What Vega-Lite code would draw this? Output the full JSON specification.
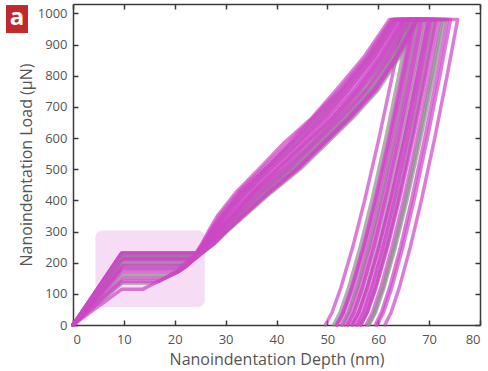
{
  "$schema": "https://vega.github.io/schema/vega-lite/v6.json",
  "width": 407,
  "height": 321,
  "autosize": {"type": "none"},
  "padding": {"left": 73, "top": 4, "right": 8, "bottom": 46},
  "background": "white",
  "config": {
    "view": {"stroke": null},
    "font": "Open Sans",
    "axis": {
      "grid": false,
      "domainColor": "#3a3a3a",
      "domainWidth": 1.5,
      "tickColor": "#3a3a3a",
      "tickWidth": 1.5,
      "tickSize": -5,
      "labelColor": "#555555",
      "labelFontSize": 13,
      "labelFont": "Open Sans",
      "titleColor": "#555555",
      "titleFontSize": 16,
      "titleFontWeight": "normal",
      "titleFont": "Open Sans"
    }
  },
  "datasets": {
    "box": [{"x1": 4.4, "x2": 25.9, "y1": 58, "y2": 303}],
    "panel": [{"x1": -13.17, "x2": -8.85, "y1": 936.8, "y2": 1026.6, "xc": -11.0, "yc": 981, "t": "a"}],
    "curves": [
      {"s":1,"x":0,"y":0},{"s":1,"x":9.6,"y":231},{"s":1,"x":24.2,"y":231},{"s":1,"x":25.3,"y":260},{"s":1,"x":26.6,"y":300},{"s":1,"x":28.4,"y":350},{"s":1,"x":32.0,"y":425},{"s":1,"x":36.8,"y":505},{"s":1,"x":41.5,"y":585},{"s":1,"x":47.0,"y":665},{"s":1,"x":51.8,"y":755},{"s":1,"x":57.2,"y":860},{"s":1,"x":62.2,"y":980},{"s":1,"x":65.0,"y":980},{"s":1,"x":62.77,"y":800},{"s":1,"x":60.16,"y":600},{"s":1,"x":57.33,"y":400},{"s":1,"x":54.99,"y":250},{"s":1,"x":52.66,"y":120},{"s":1,"x":50.92,"y":40},{"s":1,"x":49.6,"y":0},
      {"s":2,"x":0,"y":0},{"s":2,"x":9.7,"y":183},{"s":2,"x":20.75,"y":183},{"s":2,"x":21.38,"y":190},{"s":2,"x":22.78,"y":210},{"s":2,"x":24.38,"y":231},{"s":2,"x":25.66,"y":260},{"s":2,"x":27.14,"y":300},{"s":2,"x":29.18,"y":350},{"s":2,"x":33.02,"y":425},{"s":2,"x":38.0,"y":505},{"s":2,"x":43.2,"y":585},{"s":2,"x":48.0,"y":665},{"s":2,"x":53.0,"y":755},{"s":2,"x":58.22,"y":860},{"s":2,"x":63.04,"y":980},{"s":2,"x":66.2,"y":980},{"s":2,"x":64.03,"y":800},{"s":2,"x":61.49,"y":600},{"s":2,"x":58.73,"y":400},{"s":2,"x":56.45,"y":250},{"s":2,"x":54.18,"y":120},{"s":2,"x":52.48,"y":40},{"s":2,"x":51.2,"y":0},
      {"s":3,"x":0,"y":0},{"s":3,"x":9.5,"y":224},{"s":3,"x":23.76,"y":224},{"s":3,"x":24.29,"y":231},{"s":3,"x":25.48,"y":260},{"s":3,"x":26.87,"y":300},{"s":3,"x":28.79,"y":350},{"s":3,"x":32.51,"y":425},{"s":3,"x":37.4,"y":505},{"s":3,"x":42.4,"y":585},{"s":3,"x":47.2,"y":665},{"s":3,"x":52.4,"y":755},{"s":3,"x":57.71,"y":860},{"s":3,"x":62.62,"y":980},{"s":3,"x":67.0,"y":980},{"s":3,"x":64.8,"y":800},{"s":3,"x":62.22,"y":600},{"s":3,"x":59.43,"y":400},{"s":3,"x":57.12,"y":250},{"s":3,"x":54.82,"y":120},{"s":3,"x":53.1,"y":40},{"s":3,"x":51.8,"y":0},
      {"s":4,"x":0,"y":0},{"s":4,"x":9.8,"y":215},{"s":4,"x":23.34,"y":215},{"s":4,"x":24.56,"y":231},{"s":4,"x":26.02,"y":260},{"s":4,"x":27.68,"y":300},{"s":4,"x":29.96,"y":350},{"s":4,"x":34.04,"y":425},{"s":4,"x":39.2,"y":505},{"s":4,"x":44.2,"y":585},{"s":4,"x":49.4,"y":665},{"s":4,"x":54.2,"y":755},{"s":4,"x":59.24,"y":860},{"s":4,"x":63.88,"y":980},{"s":4,"x":67.6,"y":980},{"s":4,"x":65.46,"y":800},{"s":4,"x":62.95,"y":600},{"s":4,"x":60.23,"y":400},{"s":4,"x":57.98,"y":250},{"s":4,"x":55.74,"y":120},{"s":4,"x":54.07,"y":40},{"s":4,"x":52.8,"y":0},
      {"s":5,"x":0,"y":0},{"s":5,"x":9.6,"y":205},{"s":5,"x":22.52,"y":205},{"s":5,"x":22.87,"y":210},{"s":5,"x":24.47,"y":231},{"s":5,"x":25.84,"y":260},{"s":5,"x":27.41,"y":300},{"s":5,"x":29.57,"y":350},{"s":5,"x":33.53,"y":425},{"s":5,"x":38.6,"y":505},{"s":5,"x":43.6,"y":585},{"s":5,"x":48.6,"y":665},{"s":5,"x":53.6,"y":755},{"s":5,"x":58.73,"y":860},{"s":5,"x":63.46,"y":980},{"s":5,"x":68.0,"y":980},{"s":5,"x":65.82,"y":800},{"s":5,"x":63.25,"y":600},{"s":5,"x":60.48,"y":400},{"s":5,"x":58.18,"y":250},{"s":5,"x":55.9,"y":120},{"s":5,"x":54.19,"y":40},{"s":5,"x":52.9,"y":0},
      {"s":6,"x":0,"y":0},{"s":6,"x":9.4,"y":228},{"s":6,"x":24.51,"y":228},{"s":6,"x":24.74,"y":231},{"s":6,"x":26.38,"y":260},{"s":6,"x":28.22,"y":300},{"s":6,"x":30.74,"y":350},{"s":6,"x":35.06,"y":425},{"s":6,"x":40.4,"y":505},{"s":6,"x":45.4,"y":585},{"s":6,"x":50.4,"y":665},{"s":6,"x":55.4,"y":755},{"s":6,"x":60.26,"y":860},{"s":6,"x":64.72,"y":980},{"s":6,"x":68.6,"y":980},{"s":6,"x":66.49,"y":800},{"s":6,"x":64.01,"y":600},{"s":6,"x":61.33,"y":400},{"s":6,"x":59.11,"y":250},{"s":6,"x":56.9,"y":120},{"s":6,"x":55.25,"y":40},{"s":6,"x":54.0,"y":0},
      {"s":7,"x":0,"y":0},{"s":7,"x":9.9,"y":195},{"s":7,"x":22.0,"y":195},{"s":7,"x":23.05,"y":210},{"s":7,"x":24.65,"y":231},{"s":7,"x":26.2,"y":260},{"s":7,"x":27.95,"y":300},{"s":7,"x":30.35,"y":350},{"s":7,"x":34.55,"y":425},{"s":7,"x":39.8,"y":505},{"s":7,"x":44.8,"y":585},{"s":7,"x":49.8,"y":665},{"s":7,"x":54.8,"y":755},{"s":7,"x":59.75,"y":860},{"s":7,"x":64.3,"y":980},{"s":7,"x":69.0,"y":980},{"s":7,"x":66.83,"y":800},{"s":7,"x":64.29,"y":600},{"s":7,"x":61.53,"y":400},{"s":7,"x":59.25,"y":250},{"s":7,"x":56.98,"y":120},{"s":7,"x":55.28,"y":40},{"s":7,"x":54.0,"y":0},
      {"s":8,"x":0,"y":0},{"s":8,"x":9.6,"y":160},{"s":8,"x":18.87,"y":160},{"s":8,"x":20.12,"y":170},{"s":8,"x":21.92,"y":190},{"s":8,"x":23.32,"y":210},{"s":8,"x":24.92,"y":231},{"s":8,"x":26.74,"y":260},{"s":8,"x":28.76,"y":300},{"s":8,"x":31.52,"y":350},{"s":8,"x":36.08,"y":425},{"s":8,"x":41.6,"y":505},{"s":8,"x":46.6,"y":585},{"s":8,"x":51.6,"y":665},{"s":8,"x":56.6,"y":755},{"s":8,"x":61.28,"y":860},{"s":8,"x":65.56,"y":980},{"s":8,"x":69.5,"y":980},{"s":8,"x":67.38,"y":800},{"s":8,"x":64.88,"y":600},{"s":8,"x":62.18,"y":400},{"s":8,"x":59.94,"y":250},{"s":8,"x":57.72,"y":120},{"s":8,"x":56.06,"y":40},{"s":8,"x":54.8,"y":0},
      {"s":9,"x":0,"y":0},{"s":9,"x":9.7,"y":220},{"s":9,"x":23.99,"y":220},{"s":9,"x":24.83,"y":231},{"s":9,"x":26.56,"y":260},{"s":9,"x":28.49,"y":300},{"s":9,"x":31.13,"y":350},{"s":9,"x":35.57,"y":425},{"s":9,"x":41.0,"y":505},{"s":9,"x":46.0,"y":585},{"s":9,"x":51.0,"y":665},{"s":9,"x":56.0,"y":755},{"s":9,"x":60.77,"y":860},{"s":9,"x":65.14,"y":980},{"s":9,"x":70.0,"y":980},{"s":9,"x":67.8,"y":800},{"s":9,"x":65.22,"y":600},{"s":9,"x":62.43,"y":400},{"s":9,"x":60.12,"y":250},{"s":9,"x":57.82,"y":120},{"s":9,"x":56.1,"y":40},{"s":9,"x":54.8,"y":0},
      {"s":10,"x":0,"y":0},{"s":10,"x":9.5,"y":210},{"s":10,"x":23.5,"y":210},{"s":10,"x":25.1,"y":231},{"s":10,"x":27.1,"y":260},{"s":10,"x":29.3,"y":300},{"s":10,"x":32.3,"y":350},{"s":10,"x":37.1,"y":425},{"s":10,"x":42.8,"y":505},{"s":10,"x":47.8,"y":585},{"s":10,"x":52.8,"y":665},{"s":10,"x":57.8,"y":755},{"s":10,"x":62.3,"y":860},{"s":10,"x":66.4,"y":980},{"s":10,"x":70.6,"y":980},{"s":10,"x":68.45,"y":800},{"s":10,"x":65.92,"y":600},{"s":10,"x":63.18,"y":400},{"s":10,"x":60.91,"y":250},{"s":10,"x":58.66,"y":120},{"s":10,"x":56.97,"y":40},{"s":10,"x":55.7,"y":0},
      {"s":11,"x":0,"y":0},{"s":11,"x":9.6,"y":200},{"s":11,"x":22.71,"y":200},{"s":11,"x":23.41,"y":210},{"s":11,"x":25.01,"y":231},{"s":11,"x":26.92,"y":260},{"s":11,"x":29.03,"y":300},{"s":11,"x":31.91,"y":350},{"s":11,"x":36.59,"y":425},{"s":11,"x":42.2,"y":505},{"s":11,"x":47.2,"y":585},{"s":11,"x":52.2,"y":665},{"s":11,"x":57.2,"y":755},{"s":11,"x":61.79,"y":860},{"s":11,"x":65.98,"y":980},{"s":11,"x":71.0,"y":980},{"s":11,"x":68.9,"y":800},{"s":11,"x":66.44,"y":600},{"s":11,"x":63.78,"y":400},{"s":11,"x":61.57,"y":250},{"s":11,"x":59.38,"y":120},{"s":11,"x":57.74,"y":40},{"s":11,"x":56.5,"y":0},
      {"s":12,"x":0,"y":0},{"s":12,"x":9.8,"y":150},{"s":12,"x":17.98,"y":150},{"s":12,"x":20.48,"y":170},{"s":12,"x":22.28,"y":190},{"s":12,"x":23.68,"y":210},{"s":12,"x":25.28,"y":231},{"s":12,"x":27.46,"y":260},{"s":12,"x":29.84,"y":300},{"s":12,"x":33.08,"y":350},{"s":12,"x":38.12,"y":425},{"s":12,"x":44.0,"y":505},{"s":12,"x":49.0,"y":585},{"s":12,"x":54.0,"y":665},{"s":12,"x":59.0,"y":755},{"s":12,"x":63.32,"y":860},{"s":12,"x":67.24,"y":980},{"s":12,"x":71.6,"y":980},{"s":12,"x":69.43,"y":800},{"s":12,"x":66.89,"y":600},{"s":12,"x":64.13,"y":400},{"s":12,"x":61.85,"y":250},{"s":12,"x":59.58,"y":120},{"s":12,"x":57.88,"y":40},{"s":12,"x":56.6,"y":0},
      {"s":13,"x":0,"y":0},{"s":13,"x":9.6,"y":231},{"s":13,"x":25.19,"y":231},{"s":13,"x":27.28,"y":260},{"s":13,"x":29.57,"y":300},{"s":13,"x":32.69,"y":350},{"s":13,"x":37.61,"y":425},{"s":13,"x":43.4,"y":505},{"s":13,"x":48.4,"y":585},{"s":13,"x":53.4,"y":665},{"s":13,"x":58.4,"y":755},{"s":13,"x":62.81,"y":860},{"s":13,"x":66.82,"y":980},{"s":13,"x":72.2,"y":980},{"s":13,"x":70.09,"y":800},{"s":13,"x":67.61,"y":600},{"s":13,"x":64.93,"y":400},{"s":13,"x":62.71,"y":250},{"s":13,"x":60.5,"y":120},{"s":13,"x":58.85,"y":40},{"s":13,"x":57.6,"y":0},
      {"s":14,"x":0,"y":0},{"s":14,"x":9.7,"y":135},{"s":14,"x":16.13,"y":135},{"s":14,"x":18.13,"y":150},{"s":14,"x":20.63,"y":170},{"s":14,"x":22.43,"y":190},{"s":14,"x":23.83,"y":210},{"s":14,"x":25.43,"y":231},{"s":14,"x":27.76,"y":260},{"s":14,"x":30.29,"y":300},{"s":14,"x":33.73,"y":350},{"s":14,"x":38.97,"y":425},{"s":14,"x":45.0,"y":505},{"s":14,"x":50.0,"y":585},{"s":14,"x":55.0,"y":665},{"s":14,"x":60.0,"y":755},{"s":14,"x":64.17,"y":860},{"s":14,"x":67.94,"y":980},{"s":14,"x":73.0,"y":980},{"s":14,"x":70.86,"y":800},{"s":14,"x":68.35,"y":600},{"s":14,"x":65.63,"y":400},{"s":14,"x":63.38,"y":250},{"s":14,"x":61.14,"y":120},{"s":14,"x":59.47,"y":40},{"s":14,"x":58.2,"y":0},
      {"s":15,"x":0,"y":0},{"s":15,"x":9.5,"y":170},{"s":15,"x":20.57,"y":170},{"s":15,"x":22.37,"y":190},{"s":15,"x":23.77,"y":210},{"s":15,"x":25.37,"y":231},{"s":15,"x":27.64,"y":260},{"s":15,"x":30.11,"y":300},{"s":15,"x":33.47,"y":350},{"s":15,"x":38.63,"y":425},{"s":15,"x":44.6,"y":505},{"s":15,"x":49.6,"y":585},{"s":15,"x":54.6,"y":665},{"s":15,"x":59.6,"y":755},{"s":15,"x":63.83,"y":860},{"s":15,"x":67.66,"y":980},{"s":15,"x":74.2,"y":980},{"s":15,"x":72.12,"y":800},{"s":15,"x":69.67,"y":600},{"s":15,"x":67.03,"y":400},{"s":15,"x":64.84,"y":250},{"s":15,"x":62.66,"y":120},{"s":15,"x":61.03,"y":40},{"s":15,"x":59.8,"y":0},
      {"s":16,"x":0,"y":0},{"s":16,"x":9.6,"y":115},{"s":16,"x":13.78,"y":115},{"s":16,"x":15.53,"y":130},{"s":16,"x":18.03,"y":150},{"s":16,"x":20.53,"y":170},{"s":16,"x":22.33,"y":190},{"s":16,"x":23.73,"y":210},{"s":16,"x":25.33,"y":231},{"s":16,"x":27.55,"y":260},{"s":16,"x":29.98,"y":300},{"s":16,"x":33.28,"y":350},{"s":16,"x":38.38,"y":425},{"s":16,"x":44.3,"y":505},{"s":16,"x":49.3,"y":585},{"s":16,"x":54.3,"y":665},{"s":16,"x":59.3,"y":755},{"s":16,"x":63.58,"y":860},{"s":16,"x":67.45,"y":980},{"s":16,"x":75.6,"y":980},{"s":16,"x":73.53,"y":800},{"s":16,"x":71.11,"y":600},{"s":16,"x":68.48,"y":400},{"s":16,"x":66.3,"y":250},{"s":16,"x":64.14,"y":120},{"s":16,"x":62.52,"y":40},{"s":16,"x":61.3,"y":0},
      {"s":17,"x":0,"y":0},{"s":17,"x":9.6,"y":226},{"s":17,"x":24.05,"y":226},{"s":17,"x":24.35,"y":231},{"s":17,"x":25.6,"y":260},{"s":17,"x":27.05,"y":300},{"s":17,"x":29.35,"y":350},{"s":17,"x":32.85,"y":425},{"s":17,"x":38.1,"y":505},{"s":17,"x":42.8,"y":585},{"s":17,"x":47.5,"y":665},{"s":17,"x":52.8,"y":755},{"s":17,"x":58.05,"y":860},{"s":17,"x":62.9,"y":980},{"s":17,"x":66.8,"y":980},{"s":17,"x":64.63,"y":800},{"s":17,"x":62.09,"y":600},{"s":17,"x":59.33,"y":400},{"s":17,"x":57.05,"y":250},{"s":17,"x":54.78,"y":120},{"s":17,"x":53.08,"y":40},{"s":17,"x":51.8,"y":0},
      {"s":18,"x":0,"y":0},{"s":18,"x":9.7,"y":190},{"s":18,"x":21.8,"y":190},{"s":18,"x":23.2,"y":210},{"s":18,"x":24.8,"y":231},{"s":18,"x":26.5,"y":260},{"s":18,"x":28.4,"y":300},{"s":18,"x":31.3,"y":350},{"s":18,"x":35.4,"y":425},{"s":18,"x":40.5,"y":505},{"s":18,"x":45.8,"y":585},{"s":18,"x":51.1,"y":665},{"s":18,"x":55.8,"y":755},{"s":18,"x":60.6,"y":860},{"s":18,"x":65.0,"y":980},{"s":18,"x":69.8,"y":980},{"s":18,"x":67.66,"y":800},{"s":18,"x":65.15,"y":600},{"s":18,"x":62.43,"y":400},{"s":18,"x":60.18,"y":250},{"s":18,"x":57.94,"y":120},{"s":18,"x":56.27,"y":40},{"s":18,"x":55.0,"y":0},
      {"s":19,"x":0,"y":0},{"s":19,"x":9.5,"y":218},{"s":19,"x":23.96,"y":218},{"s":19,"x":24.95,"y":231},{"s":19,"x":26.8,"y":260},{"s":19,"x":28.85,"y":300},{"s":19,"x":31.65,"y":350},{"s":19,"x":36.0,"y":425},{"s":19,"x":41.8,"y":505},{"s":19,"x":47.1,"y":585},{"s":19,"x":51.8,"y":665},{"s":19,"x":56.5,"y":755},{"s":19,"x":61.45,"y":860},{"s":19,"x":65.7,"y":980},{"s":19,"x":70.3,"y":980},{"s":19,"x":68.22,"y":800},{"s":19,"x":65.77,"y":600},{"s":19,"x":63.13,"y":400},{"s":19,"x":60.94,"y":250},{"s":19,"x":58.76,"y":120},{"s":19,"x":57.13,"y":40},{"s":19,"x":55.9,"y":0},
      {"s":20,"x":0,"y":0},{"s":20,"x":9.7,"y":222},{"s":20,"x":24.54,"y":222},{"s":20,"x":25.22,"y":231},{"s":20,"x":27.34,"y":260},{"s":20,"x":29.66,"y":300},{"s":20,"x":32.82,"y":350},{"s":20,"x":37.78,"y":425},{"s":20,"x":43.6,"y":505},{"s":20,"x":48.3,"y":585},{"s":20,"x":53.6,"y":665},{"s":20,"x":58.6,"y":755},{"s":20,"x":62.98,"y":860},{"s":20,"x":66.96,"y":980},{"s":20,"x":72.6,"y":980},{"s":20,"x":70.49,"y":800},{"s":20,"x":68.01,"y":600},{"s":20,"x":65.33,"y":400},{"s":20,"x":63.11,"y":250},{"s":20,"x":60.9,"y":120},{"s":20,"x":59.25,"y":40},{"s":20,"x":58.0,"y":0},
      {"s":21,"x":0,"y":0},{"s":21,"x":9.6,"y":180},{"s":21,"x":20.63,"y":180},{"s":21,"x":21.53,"y":190},{"s":21,"x":22.93,"y":210},{"s":21,"x":24.53,"y":231},{"s":21,"x":25.96,"y":260},{"s":21,"x":27.59,"y":300},{"s":21,"x":29.83,"y":350},{"s":21,"x":33.87,"y":425},{"s":21,"x":39.0,"y":505},{"s":21,"x":44.3,"y":585},{"s":21,"x":49.0,"y":665},{"s":21,"x":54.0,"y":755},{"s":21,"x":59.07,"y":860},{"s":21,"x":63.74,"y":980},{"s":21,"x":68.3,"y":980},{"s":21,"x":66.15,"y":800},{"s":21,"x":63.62,"y":600},{"s":21,"x":60.88,"y":400},{"s":21,"x":58.61,"y":250},{"s":21,"x":56.36,"y":120},{"s":21,"x":54.67,"y":40},{"s":21,"x":53.4,"y":0},
      {"s":22,"x":0,"y":0},{"s":22,"x":9.6,"y":140},{"s":22,"x":16.84,"y":140},{"s":22,"x":18.01,"y":150},{"s":22,"x":20.51,"y":170},{"s":22,"x":22.31,"y":190},{"s":22,"x":23.71,"y":210},{"s":22,"x":25.31,"y":231},{"s":22,"x":27.52,"y":260},{"s":22,"x":29.93,"y":300},{"s":22,"x":33.21,"y":350},{"s":22,"x":38.29,"y":425},{"s":22,"x":44.2,"y":505},{"s":22,"x":49.2,"y":585},{"s":22,"x":54.2,"y":665},{"s":22,"x":59.2,"y":755},{"s":22,"x":63.49,"y":860},{"s":22,"x":67.38,"y":980},{"s":22,"x":73.6,"y":980},{"s":22,"x":71.55,"y":800},{"s":22,"x":69.14,"y":600},{"s":22,"x":66.53,"y":400},{"s":22,"x":64.37,"y":250},{"s":22,"x":62.22,"y":120},{"s":22,"x":60.61,"y":40},{"s":22,"x":59.4,"y":0},
      {"s":23,"x":0,"y":0},{"s":23,"x":9.6,"y":231},{"s":23,"x":25.07,"y":231},{"s":23,"x":27.04,"y":260},{"s":23,"x":29.21,"y":300},{"s":23,"x":32.17,"y":350},{"s":23,"x":36.93,"y":425},{"s":23,"x":42.6,"y":505},{"s":23,"x":47.6,"y":585},{"s":23,"x":52.6,"y":665},{"s":23,"x":57.6,"y":755},{"s":23,"x":62.13,"y":860},{"s":23,"x":66.26,"y":980},{"s":23,"x":71.3,"y":980},{"s":23,"x":69.16,"y":800},{"s":23,"x":66.65,"y":600},{"s":23,"x":63.93,"y":400},{"s":23,"x":61.68,"y":250},{"s":23,"x":59.44,"y":120},{"s":23,"x":57.77,"y":40},{"s":23,"x":56.5,"y":0},
      {"s":24,"x":0,"y":0},{"s":24,"x":9.7,"y":212},{"s":24,"x":22.98,"y":212},{"s":24,"x":24.43,"y":231},{"s":24,"x":25.75,"y":260},{"s":24,"x":27.28,"y":300},{"s":24,"x":29.38,"y":350},{"s":24,"x":33.28,"y":425},{"s":24,"x":38.3,"y":505},{"s":24,"x":43.3,"y":585},{"s":24,"x":48.3,"y":665},{"s":24,"x":53.3,"y":755},{"s":24,"x":58.48,"y":860},{"s":24,"x":63.25,"y":980},{"s":24,"x":67.3,"y":980},{"s":24,"x":65.09,"y":800},{"s":24,"x":62.49,"y":600},{"s":24,"x":59.68,"y":400},{"s":24,"x":57.35,"y":250},{"s":24,"x":55.04,"y":120},{"s":24,"x":53.31,"y":40},{"s":24,"x":52.0,"y":0}
    ]
  },
  "layer": [
    {
      "data": {"name": "box"},
      "mark": {"type": "rect", "cornerRadius": 7, "color": "#e9a8e6", "opacity": 0.4},
      "encoding": {
        "x": {"field": "x1", "type": "quantitative", "scale": {"domain": [0, 80], "nice": false},
              "axis": {"orient": "top", "values": [0,10,20,30,40,50,60,70,80], "labels": false, "title": null}},
        "x2": {"field": "x2"},
        "y": {"field": "y1", "type": "quantitative", "scale": {"domain": [0, 1030], "nice": false},
              "axis": {"orient": "right", "values": [0,100,200,300,400,500,600,700,800,900,1000], "labels": false, "title": null}},
        "y2": {"field": "y2"}
      }
    },
    {
      "data": {"name": "curves"},
      "mark": {"type": "line", "strokeWidth": 3.5, "opacity": 0.7, "strokeJoin": "round", "strokeCap": "round"},
      "encoding": {
        "x": {"field": "x", "type": "quantitative",
              "axis": {"orient": "bottom", "values": [0,10,20,30,40,50,60,70,80], "title": "Nanoindentation Depth (nm)", "labelPadding": 13, "titlePadding": 5}},
        "y": {"field": "y", "type": "quantitative",
              "axis": {"orient": "left", "values": [0,100,200,300,400,500,600,700,800,900,1000], "format": "d", "title": "Nanoindentation Load (µN)", "labelPadding": 11, "titlePadding": 3}},
        "color": {"field": "s", "type": "nominal", "legend": null,
                  "scale": {"domain": [1,2,3,4,5,6,7,8,9,10,11,12,13,14,15,16,17,18,19,20,21,22,23,24],
                            "range": ["#cf45c7","#8e8e8e","#cf45c7","#cf45c7","#8e8e8e","#cf45c7","#cf45c7","#8e8e8e","#cf45c7","#cf45c7","#8e8e8e","#cf45c7","#cf45c7","#8e8e8e","#cf45c7","#cf45c7","#cf45c7","#cf45c7","#cf45c7","#8e8e8e","#cf45c7","#cf45c7","#cf45c7","#cf45c7"]}},
        "order": {"value": null}
      }
    },
    {
      "data": {"name": "panel"},
      "mark": {"type": "rect", "color": "#c1282e"},
      "encoding": {
        "x": {"field": "x1", "type": "quantitative", "axis": null},
        "x2": {"field": "x2"},
        "y": {"field": "y1", "type": "quantitative", "axis": null},
        "y2": {"field": "y2"}
      }
    },
    {
      "data": {"name": "panel"},
      "mark": {"type": "text", "color": "white", "fontSize": 24, "fontWeight": "bold", "font": "Open Sans", "align": "center", "baseline": "middle", "dy": -1},
      "encoding": {
        "x": {"field": "xc", "type": "quantitative", "axis": null},
        "y": {"field": "yc", "type": "quantitative", "axis": null},
        "text": {"field": "t"}
      }
    }
  ],
  "resolve": {"axis": {"x": "independent", "y": "independent"}}
}
